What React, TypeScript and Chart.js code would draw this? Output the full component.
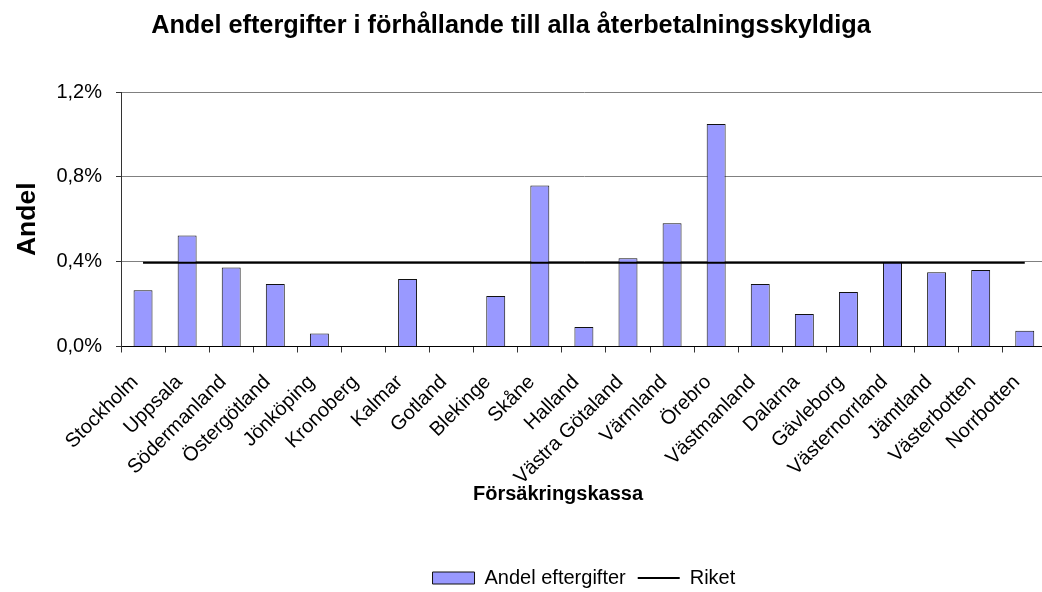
import { useEffect, useRef } from 'react';
import { Chart, registerables } from 'chart.js';

Chart.register(...registerables);

const TITLE = 'Andel eftergifter i förhållande till alla återbetalningsskyldiga';
const X_TITLE = 'Försäkringskassa';
const Y_TITLE = 'Andel';

const categories = [
  'Stockholm', 'Uppsala', 'Södermanland', 'Östergötland', 'Jönköping', 'Kronoberg',
  'Kalmar', 'Gotland', 'Blekinge', 'Skåne', 'Halland', 'Västra Götaland', 'Värmland',
  'Örebro', 'Västmanland', 'Dalarna', 'Gävleborg', 'Västernorrland', 'Jämtland',
  'Västerbotten', 'Norrbotten',
];

// values in percent
const andelEftergifter = [
  0.265, 0.523, 0.373, 0.295, 0.061, 0, 0.318, 0, 0.238, 0.759, 0.092, 0.416, 0.581,
  1.049, 0.295, 0.153, 0.257, 0.399, 0.35, 0.361, 0.074,
];

const riket = [
  0.395, 0.395, 0.395, 0.395, 0.395, 0.395, 0.395, 0.395, 0.395, 0.395, 0.395, 0.395,
  0.395, 0.395, 0.395, 0.395, 0.395, 0.395, 0.395, 0.395, 0.395,
];

const yTicks = [0, 0.4, 0.8, 1.2];

const W = 1060;
const H = 592;
const BOTTOM_PAD = -6;
const FONT = '"Liberation Sans", Arial, sans-serif';

const textPlugin = {
  id: 'extraTexts',
  afterDraw(chart: any) {
    const ctx = chart.ctx;
    ctx.save();
    ctx.fillStyle = '#000';
    ctx.textAlign = 'center';
    ctx.textBaseline = 'alphabetic';
    ctx.font = `bold 25.3px ${FONT}`;
    ctx.fillText(TITLE, 511, 33);
    ctx.font = `bold 20px ${FONT}`;
    ctx.fillText(X_TITLE, 558, 500);
    ctx.restore();
  },
};

export default function App() {
  const ref = useRef<HTMLCanvasElement>(null);

  useEffect(() => {
    const canvas = ref.current;
    if (!canvas) return;
    const chart = new Chart(canvas, {
      type: 'bar',
      data: {
        labels: categories,
        datasets: [
          {
            type: 'bar',
            label: 'Andel eftergifter',
            data: andelEftergifter,
            backgroundColor: '#9999FF',
            borderColor: '#111',
            borderWidth: 1,
            barPercentage: 0.43,
            categoryPercentage: 1,
            order: 2,
          } as any,
          {
            type: 'line',
            label: 'Riket',
            data: riket,
            borderColor: '#000',
            backgroundColor: '#000',
            borderWidth: 2,
            pointRadius: 0,
            fill: false,
            order: 1,
          } as any,
        ],
      },
      options: {
        responsive: false,
        animation: false,
        devicePixelRatio: 1,
        layout: {
          padding: { left: 0, top: 92, right: W - 1049.2, bottom: BOTTOM_PAD },
        },
        plugins: {
          title: { display: false },
          tooltip: { enabled: false },
          legend: {
            display: true,
            position: 'bottom',
            fullSize: false,
            labels: {
              font: { family: FONT, size: 20 },
              color: '#000',
              usePointStyle: true,
              pointStyleWidth: 42,
              boxHeight: 12,
              padding: 12,
              sort: (a: any, b: any) => a.datasetIndex - b.datasetIndex,
              generateLabels: (chart: any) => {
                const items = Chart.defaults.plugins.legend.labels.generateLabels(chart);
                return items.map((it: any) => {
                  if (it.datasetIndex === 0) {
                    return { ...it, pointStyle: 'rect', fillStyle: '#9999FF', strokeStyle: '#111', lineWidth: 1 };
                  }
                  return { ...it, pointStyle: 'line', fillStyle: '#000', strokeStyle: '#000', lineWidth: 2 };
                });
              },
            },
          },
        },
        scales: {
          x: {
            type: 'category',
            offset: true,
            grid: {
              offset: true,
              drawOnChartArea: false,
              drawTicks: true,
              tickLength: 6,
              color: '#333',
            },
            border: { display: true, color: '#000', width: 1 },
            ticks: {
              autoSkip: false,
              maxRotation: 45,
              minRotation: 45,
              padding: 18,
              labelOffset: -8,
              color: '#000',
              font: { family: FONT, size: 20 },
            },
            afterFit: (scale: any) => {
              scale.height = H - 346.5 - BOTTOM_PAD - 42;
            },
          },
          y: {
            min: 0,
            max: 1.2,
            afterBuildTicks: (scale: any) => {
              scale.ticks = yTicks.map((v) => ({ value: v }));
            },
            grid: {
              color: '#808080',
              drawTicks: true,
              tickLength: 5,
              tickColor: '#333',
            },
            border: { display: true, color: '#333', width: 1 },
            ticks: {
              padding: 14,
              color: '#000',
              font: { family: FONT, size: 20 },
              callback: (v: any) => Number(v).toFixed(1).replace('.', ',') + '%',
            },
            title: {
              display: true,
              text: Y_TITLE,
              color: '#000',
              font: { family: FONT, size: 26.5, weight: 'bold' },
              padding: { top: 12, bottom: 0 },
            },
            afterFit: (scale: any) => {
              scale.width = 121;
            },
          },
        },
      },
      plugins: [textPlugin],
    });
    return () => chart.destroy();
  }, []);

  return (
    <div
      style={{
        position: 'absolute',
        left: 0,
        top: 0,
        width: 1042,
        height: 592,
        overflow: 'hidden',
        background: '#fff',
      }}
    >
      <canvas ref={ref} width={W} height={H} style={{ display: 'block', width: W + 'px', height: H + 'px' }} />
    </div>
  );
}
